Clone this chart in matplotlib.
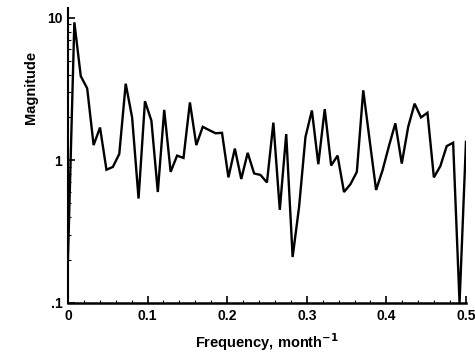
import numpy as np
import matplotlib
matplotlib.use("Agg")
import matplotlib.pyplot as plt
from matplotlib.ticker import FixedLocator, LogLocator, NullFormatter

# magnitude spectrum, bins 0 .. 0.5 month^-1
magnitude = [0.2, 9.3, 3.9, 3.2, 1.28, 1.7, 0.86, 0.9, 1.11, 3.45,
             2.0, 0.54, 2.6, 1.9, 0.6, 2.26, 0.83, 1.08, 1.04, 2.55,
             1.28, 1.72, 1.63, 1.55, 1.56, 0.76, 1.21, 0.74, 1.13, 0.81,
             0.79, 0.7, 1.84, 0.45, 1.53, 0.21, 0.47, 1.46, 2.24, 0.94,
             2.29, 0.92, 1.08, 0.6, 0.68, 0.83, 3.1, 1.38, 0.62, 0.85,
             1.26, 1.82, 0.95, 1.72, 2.5, 2.0, 2.16, 0.76, 0.91, 1.26,
             1.33, 0.1, 1.35]
freq = np.linspace(0, 0.5, len(magnitude))

xticks = [0, 0.1, 0.2, 0.3, 0.4, 0.5]
xtick_labels = ['0', '0.1', '0.2', '0.3', '0.4', '0.5']
yticks = [0.1, 1, 10]
ytick_labels = ['.1', '1', '10']

plt.rcParams['font.family'] = ['Liberation Sans', 'DejaVu Sans']
plt.rcParams['font.weight'] = 'bold'

fig = plt.figure(figsize=(4.75, 3.56), dpi=100)
ax = fig.add_axes([0.143, 0.149, 0.838, 0.829])

ax.plot(freq, magnitude, color='black', lw=1.7, solid_joinstyle='miter')
ax.set_yscale('log')
ax.set_xlim(0, 0.5)
ax.set_ylim(0.1, 11.75)

ax.xaxis.set_major_locator(FixedLocator(xticks))
ax.set_xticklabels(xtick_labels)
ax.xaxis.set_minor_locator(FixedLocator(np.arange(0, 0.501, 0.02)))
ax.yaxis.set_major_locator(FixedLocator(yticks))
ax.set_yticklabels(ytick_labels)
ax.yaxis.set_minor_locator(LogLocator(base=10, subs=np.arange(2, 10)))
ax.yaxis.set_minor_formatter(NullFormatter())

ax.tick_params(which='major', direction='in', length=5, width=1.2,
               labelsize=10, pad=4)
ax.tick_params(which='minor', direction='in', length=2.5, width=0.8)
for lab in ax.get_xticklabels() + ax.get_yticklabels():
    lab.set_fontweight('bold')

ax.spines['top'].set_visible(False)
ax.spines['right'].set_visible(False)
ax.spines['left'].set_linewidth(1.5)
ax.spines['bottom'].set_linewidth(1.8)

ax.set_xlabel('Frequency, month$^{\\mathbf{-1}}$', fontsize=10.5,
              fontweight='bold', labelpad=6)
ax.set_ylabel('Magnitude', fontsize=10.5, fontweight='bold')
ax.yaxis.set_label_coords(-0.075, 0.73)

fig.savefig('out.png', dpi=100)
